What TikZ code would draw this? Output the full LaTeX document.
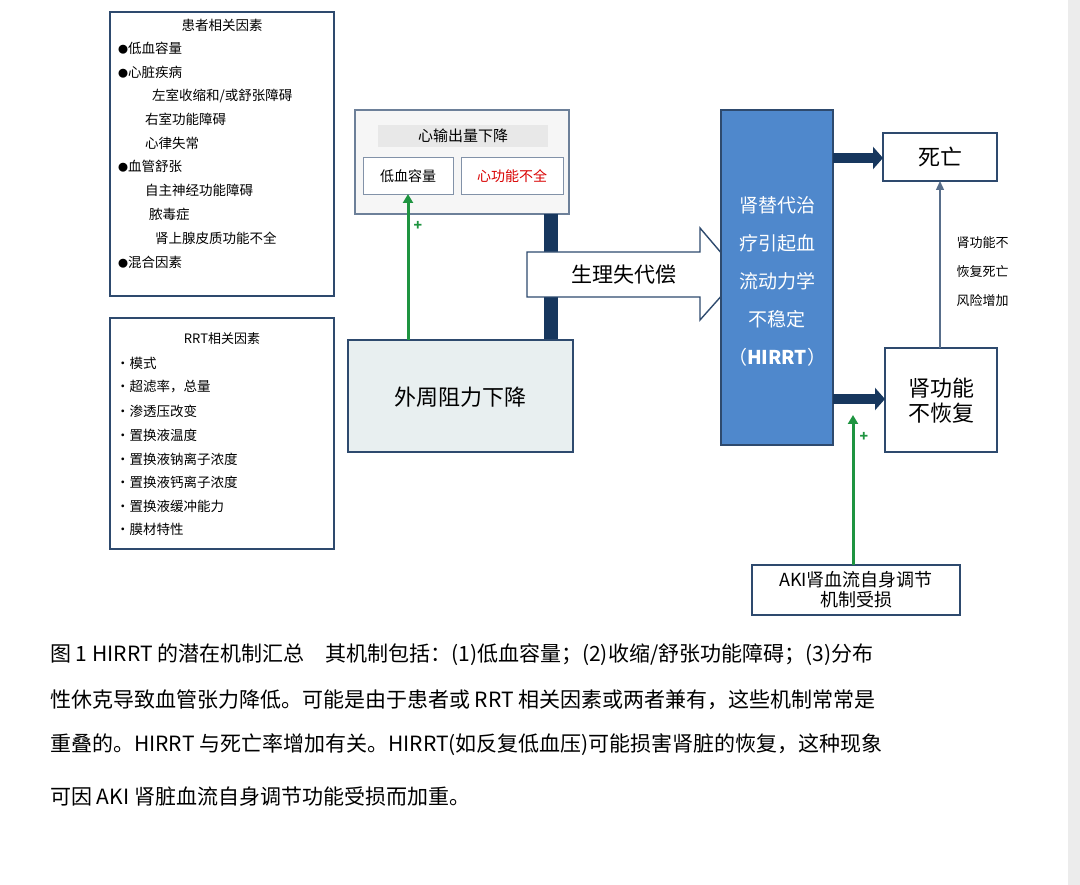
\documentclass[tikz,border=0pt]{standalone}
\usepackage{fontspec}
\setmainfont{Noto Sans CJK SC}
\usetikzlibrary{arrows.meta}
\definecolor{dk}{HTML}{17375E}
\definecolor{bx}{HTML}{2E4A6E}
\definecolor{bl}{HTML}{4F88CC}
\definecolor{gr}{HTML}{1E9440}
\definecolor{pf}{HTML}{E8EFF0}
\tikzset{
 frame/.style={draw=bx,line width=1.4pt},
 fs/.style={font=\fontsize{#1}{#1}\selectfont},
 li/.style={anchor=west,inner sep=0pt,fs=13.5},
 thick arr/.style={dk,line width=10pt,-{Triangle[length=10pt,width=22pt]}},
 garr/.style={gr,line width=3pt,-{Triangle[length=9pt,width=10pt]}},
 plus/.style={gr,font=\fontsize{14}{14}\selectfont\bfseries},
}
\newcommand\bul{{\fontsize{10}{10}\selectfont ●}}
\begin{document}
\begin{tikzpicture}[x=1pt,y=-1pt]
\useasboundingbox (0,0) rectangle (1080,885);
\fill[gray!15] (1068,0) rectangle (1080,885);
% patient box
\draw[frame] (110,12) rectangle (334,296);
\node[fs=13.5] (pt) at (222,25) {患者相关因素};
\foreach \t/\x/\y in {\bul 低血容量/118/48,\bul 心脏疾病/118/72,{左室收缩和/或舒张障碍}/152/96,右室功能障碍/145/119,心律失常/145/143,\bul 血管舒张/118/166,自主神经功能障碍/145/190,脓毒症/149/214,肾上腺皮质功能不全/155/238,\bul 混合因素/118/262}
  \node[li] at (\x,\y) {\t};
% RRT box
\draw[frame] (110,318) rectangle (334,549);
\node[fs=13] (rt) at (222,339) {RRT相关因素};
\foreach \t/\y in {模式/363,超滤率，总量/387,渗透压改变/411,置换液温度/435,置换液钠离子浓度/459,置换液钙离子浓度/482,置换液缓冲能力/506,膜材特性/529}
  \node[li] at (116,\y) {•\t};
% heart box
\draw[draw=bx!70,line width=1.2pt,fill=blue!3!gray!7] (355,110) rectangle (569,214);
\fill[gray!18] (378,125) rectangle (548,147);
\node[fs=15] (co) at (463,136) {心输出量下降};
\draw[draw=bx!60,fill=white,line width=0.8pt] (363,157) rectangle (453,194);
\node[fs=14] (lv) at (408,176) {低血容量};
\draw[draw=bx!60,fill=white,line width=0.8pt] (461,157) rectangle (563,194);
\node[fs=14,text=red!85!black] (hf) at (512,176) {心功能不全};
% dark bar
\fill[dk] (544,214) rectangle (558,340);
% peripheral
\draw[frame,fill=pf] (348,340) rectangle (573,452);
\node[fs=22] (pr) at (460,397) {外周阻力下降};
\coordinate (g1) at (408,340);
\coordinate (g2) at (408,194);
\draw[garr] (g1) -- (g2);
\node[plus] at (418,226) {+};
% big arrow
\draw[draw=bx,line width=1.4pt,fill=white] (527,252) -- (700,252) -- (700,228) -- (740,275) -- (700,320) -- (700,297) -- (527,297) -- cycle;
\node[fs=21] (ph) at (624,275) {生理失代偿};
% blue box
\draw[draw=bx,line width=1.4pt,fill=bl] (721,110) rectangle (833,445);
\node[white,fs=19,align=center,inner sep=0pt] (hi) at (777,281) {肾替代治\\[19pt]疗引起血\\[19pt]流动力学\\[19pt]不稳定\\[19pt]（\textbf{HIRRT}）};
% outcomes
\draw[frame] (883,133) rectangle (997,181);
\node[fs=22] (de) at (940,157) {死亡};
\draw[frame] (885,348) rectangle (997,452);
\node[fs=22,align=center] (nr) at (941,401) {肾功能\\[3pt]不恢复};
\coordinate (a1) at (833,158); \coordinate (a2) at (883,158);
\draw[thick arr] (a1) -- (a2);
\coordinate (b1) at (833,399); \coordinate (b2) at (885,399);
\draw[thick arr] (b1) -- (b2);
\coordinate (c1) at (940,348); \coordinate (c2) at (940,181);
\draw[bx!80,line width=1.3pt,-{Triangle[length=9pt,width=8pt]}] (c1) -- (c2);
\node[fs=13,align=left,anchor=west] (rk) at (953,272) {肾功能不\\[16pt]恢复死亡\\[16pt]风险增加};
% AKI
\draw[frame] (752,565) rectangle (960,615);
\node[fs=18,align=center] (ak) at (856,590) {AKI肾血流自身调节\\[2pt]机制受损};
\coordinate (d1) at (853,565); \coordinate (d2) at (853,415);
\draw[garr] (d1) -- (d2);
\node[plus] at (864,437) {+};
% caption
\foreach \t/\y in {{图 1 HIRRT 的潜在机制汇总　其机制包括：(1)低血容量；(2)收缩/舒张功能障碍；(3)分布}/655,{性休克导致血管张力降低。可能是由于患者或 RRT 相关因素或两者兼有，这些机制常常是}/700,{重叠的。HIRRT 与死亡率增加有关。HIRRT(如反复低血压)可能损害肾脏的恢复，这种现象}/745,{可因 AKI 肾脏血流自身调节功能受损而加重。}/797}
  \node[anchor=west,inner sep=0pt,fs=21] at (50,\y) {\t};
\end{tikzpicture}
\end{document}
